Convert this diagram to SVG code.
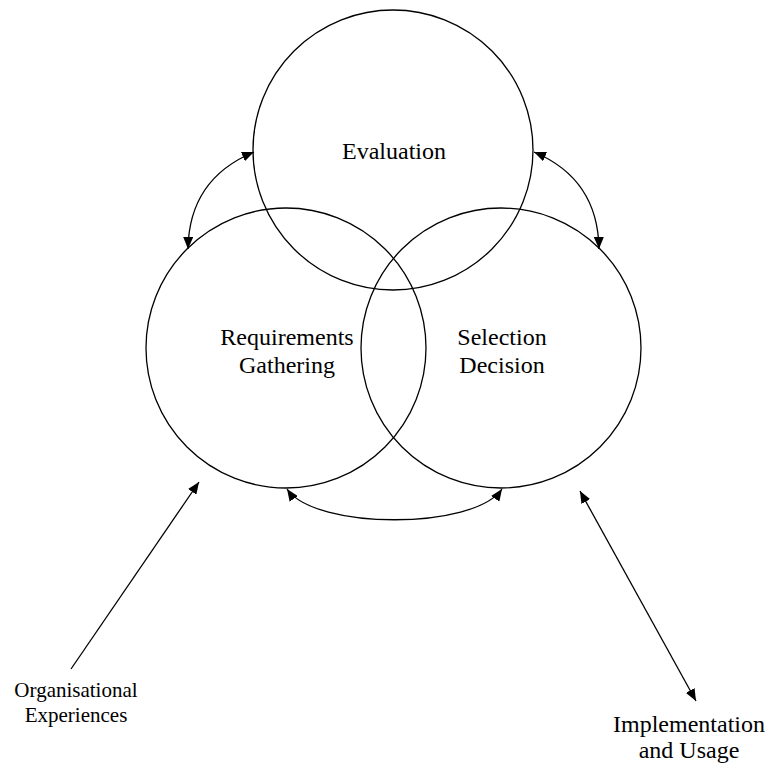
<svg xmlns="http://www.w3.org/2000/svg" width="771" height="771" viewBox="0 0 771 771">
  <style>
    .circle { fill: none; stroke: #000; stroke-width: 1.3; }
    .conn { fill: none; stroke: #000; stroke-width: 1.3; }
    .lbl { font-family: "Liberation Serif", "Times New Roman", serif; font-size: 24px; fill: #000; text-anchor: middle; }
    .small { font-size: 21px; }
  </style>
  <defs>
    <marker id="ah" viewBox="0 0 12 10" refX="12" refY="5" markerWidth="12" markerHeight="10" markerUnits="userSpaceOnUse" orient="auto-start-reverse">
      <path d="M0,0 L12,5 L0,10 z" fill="#000"/>
    </marker>
  </defs>
  <rect width="771" height="771" fill="#fff"/>

  <g id="evaluation">
    <circle class="circle" cx="393" cy="150" r="140"/>
    <text class="lbl" x="394" y="159">Evaluation</text>
  </g>
  <g id="requirements-gathering">
    <circle class="circle" cx="286" cy="348" r="140"/>
    <text class="lbl" x="287" y="345">Requirements</text>
    <text class="lbl" x="287" y="373">Gathering</text>
  </g>
  <g id="selection-decision">
    <circle class="circle" cx="501" cy="348" r="140"/>
    <text class="lbl" x="502" y="345">Selection</text>
    <text class="lbl" x="502" y="373">Decision</text>
  </g>
  <g id="organisational-experiences">
    <text class="lbl small" x="76" y="697">Organisational</text>
    <text class="lbl small" x="76" y="722">Experiences</text>
  </g>
  <g id="implementation-usage">
    <text class="lbl" x="689" y="732">Implementation</text>
    <text class="lbl" x="689" y="758">and Usage</text>
  </g>

  <g id="connectors">
    <path class="conn" d="M254,152 Q189,179 188,249" marker-start="url(#ah)" marker-end="url(#ah)"/>
    <path class="conn" d="M534,152 Q598,179 599,249" marker-start="url(#ah)" marker-end="url(#ah)"/>
    <path class="conn" d="M287,489 C315,530 474,530 502,489" marker-start="url(#ah)" marker-end="url(#ah)"/>
    <path class="conn" d="M71,669 L199,482" marker-end="url(#ah)"/>
    <path class="conn" d="M580,491 L696,701" marker-start="url(#ah)" marker-end="url(#ah)"/>
  </g>
</svg>
